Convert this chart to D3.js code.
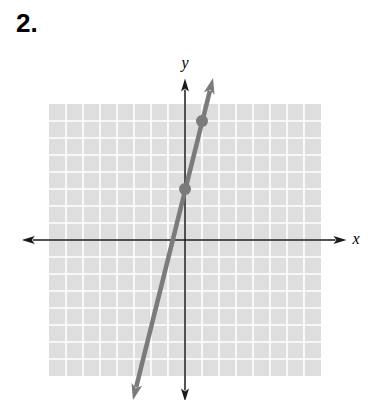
<!DOCTYPE html>
<meta charset="utf-8">
<script src="https://d3js.org/d3.v7.min.js"></script>
<style>
  body { margin: 0; background: #fff; }
</style>
<div id="my_dataviz"></div>
<script>

// grid extent (units) and tick values
var gridDomain = [-8, 8];
var gridTicks = [-7, -6, -5, -4, -3, -2, -1, 0, 1, 2, 3, 4, 5, 6, 7];

// axis arrow extents (units)
var xAxisExtent = [-9.6, 9.5];
var yAxisExtent = [-9.5, 9.5];

// plotted points and line ends
var pointsX = [0, 1];
var pointsY = [3, 7];
var lineX = [-3.06, 1.65];
var lineY = [-9.41, 9.53];

var width = 372, height = 400;

var svg = d3.select("#my_dataviz")
  .append("svg")
    .attr("width", width)
    .attr("height", height);

var x = d3.scaleLinear().domain(gridDomain).range([49, 321]);
var y = d3.scaleLinear().domain(gridDomain).range([376, 104]);

// title
svg.append("text")
  .attr("x", 16)
  .attr("y", 32)
  .style("font-family", "'Liberation Sans', Arial, sans-serif")
  .style("font-weight", "bold")
  .style("font-size", "26px")
  .text("2.");

// grid background
svg.append("rect")
  .attr("x", x(gridDomain[0]))
  .attr("y", y(gridDomain[1]))
  .attr("width", x(gridDomain[1]) - x(gridDomain[0]))
  .attr("height", y(gridDomain[0]) - y(gridDomain[1]))
  .style("fill", "#dedede");

// white grid lines
svg.selectAll("vline")
  .data(gridTicks).enter()
  .append("line")
    .attr("x1", function(d) { return x(d); })
    .attr("x2", function(d) { return x(d); })
    .attr("y1", y(gridDomain[0]))
    .attr("y2", y(gridDomain[1]))
    .style("stroke", "#fff")
    .style("stroke-width", 1.6);

svg.selectAll("hline")
  .data(gridTicks).enter()
  .append("line")
    .attr("y1", function(d) { return y(d); })
    .attr("y2", function(d) { return y(d); })
    .attr("x1", x(gridDomain[0]))
    .attr("x2", x(gridDomain[1]))
    .style("stroke", "#fff")
    .style("stroke-width", 1.6);

// draws a segment with an arrowhead at its (x2,y2) end
function arrowHead(g, x1, y1, x2, y2, color, len, half, notch) {
  var a = Math.atan2(y2 - y1, x2 - x1) * 180 / Math.PI;
  g.append("path")
    .attr("d", "M0,0 L" + (-len) + "," + (-half) + " L" + (-len + notch) + ",0 L" + (-len) + "," + half + " Z")
    .attr("transform", "translate(" + x2 + "," + y2 + ") rotate(" + a + ")")
    .style("fill", color);
}

function doubleArrow(g, x1, y1, x2, y2, color, w, len, half, notch) {
  var dx = x2 - x1, dy = y2 - y1, l = Math.sqrt(dx * dx + dy * dy);
  var ux = dx / l, uy = dy / l, back = len - notch + 1;
  g.append("line")
    .attr("x1", x1 + ux * back).attr("y1", y1 + uy * back)
    .attr("x2", x2 - ux * back).attr("y2", y2 - uy * back)
    .style("stroke", color)
    .style("stroke-width", w);
  arrowHead(g, x1, y1, x2, y2, color, len, half, notch);
  arrowHead(g, x2, y2, x1, y1, color, len, half, notch);
}

// axes
var axes = svg.append("g");
doubleArrow(axes, x(xAxisExtent[0]), y(0), x(xAxisExtent[1]), y(0), "#1a1a1a", 1.5, 13, 4, 3);
doubleArrow(axes, x(0), y(yAxisExtent[1]), x(0), y(yAxisExtent[0]), "#1a1a1a", 1.5, 13, 4, 3);

// axis labels
svg.append("text")
  .attr("x", x(0))
  .attr("y", y(yAxisExtent[1]) - 11)
  .attr("text-anchor", "middle")
  .style("font-family", "'Liberation Serif', 'Times New Roman', serif")
  .style("font-style", "italic")
  .style("font-size", "16px")
  .text("y");

svg.append("text")
  .attr("x", x(xAxisExtent[1]) + 6)
  .attr("y", y(0) + 4)
  .style("font-family", "'Liberation Serif', 'Times New Roman', serif")
  .style("font-style", "italic")
  .style("font-size", "16px")
  .text("x");

// graphed line
var graph = svg.append("g");
doubleArrow(graph, x(lineX[0]), y(lineY[0]), x(lineX[1]), y(lineY[1]), "#7b7b7b", 4.5, 16, 5.5, 4);

// points
graph.selectAll("pt")
  .data(pointsX).enter()
  .append("circle")
    .attr("cx", function(d) { return x(d); })
    .attr("cy", function(d, i) { return y(pointsY[i]); })
    .attr("r", 6)
    .style("fill", "#7b7b7b");

</script>
